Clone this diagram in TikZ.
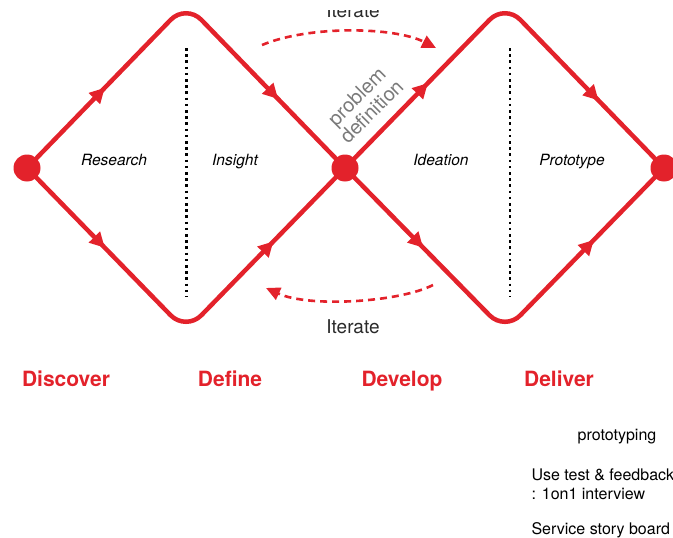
\documentclass[tikz,border=0pt]{standalone}
\usepackage{fontspec}
\setmainfont{TeX Gyre Heros}
\usetikzlibrary{arrows.meta,decorations.markings}
\definecolor{dred}{HTML}{E3222B}
\definecolor{pdgray}{HTML}{7A7A7A}
\definecolor{itgray}{HTML}{2A2A2A}
\tikzset{
  dline/.style={draw=dred, line width=4.5pt, rounded corners=22pt},
  dot/.style={circle, fill=dred, minimum size=27pt, inner sep=0pt},
  vdots/.style={draw=black, line width=2.6pt, dash pattern=on 2.6pt off 3.6pt},
  iter/.style={draw=dred, line width=2.6pt, dash pattern=on 7pt off 5pt, -{Triangle[length=14pt,width=13pt]}},
  midarr/.style 2 args={postaction={decorate, decoration={markings,
      mark=at position #1 with {\arrow[color=dred]{Triangle[length=15pt,width=15pt]}},
      mark=at position #2 with {\arrow[color=dred]{Triangle[length=15pt,width=15pt]}}}}},
  stage/.style={font=\itshape\fontsize{15.5}{18}\selectfont, anchor=base},
  phase/.style={text=dred, font=\bfseries\fontsize{21}{24}\selectfont, anchor=base},
  note/.style={font=\fontsize{16}{19}\selectfont, anchor=base west},
  iterlabel/.style={text=itgray, font=\fontsize{19}{22}\selectfont, anchor=base},
  pd/.style={text=pdgray, font=\fontsize{20}{21}\selectfont, align=center},
}
\begin{document}
\begin{tikzpicture}[x=1pt,y=-1pt]
\useasboundingbox (0,0) rectangle (673,538);
% apex coordinates
\coordinate (T1) at (186,4);
\coordinate (B1) at (186,331);
\coordinate (T2) at (505,4);
\coordinate (B2) at (505,331);
% diamonds
\draw[dline, midarr={0.25}{0.785}] (27,168) coordinate (Lc) -- (T1) -- (345,168) coordinate (Mc);
\draw[dline, midarr={0.25}{0.77}] (Lc) -- (B1) -- (Mc);
\draw[dline, midarr={0.265}{0.79}] (Mc) -- (T2) -- (664,168) coordinate (Rc);
\draw[dline, midarr={0.25}{0.775}] (Mc) -- (B2) -- (Rc);
% dots
\node[dot] (L) at (Lc) {};
\node[dot] (M) at (Mc) {};
\node[dot] (R) at (Rc) {};
% dotted dividers
\coordinate (d1a) at (186.5,48);
\coordinate (d1b) at (186.5,297);
\coordinate (d2a) at (510,48);
\coordinate (d2b) at (510,297);
\draw[vdots] (d1a) -- (d1b);
\draw[vdots] (d2a) -- (d2b);
% stage labels
\node[stage] (research) at (114,165) {Research};
\node[stage] (insight) at (235,165) {Insight};
\node[stage] (ideation) at (441,165) {Ideation};
\node[stage] (prototype) at (572,165) {Prototype};
% problem definition
\node[pd, rotate=45] (pdef) at (364,104) {problem\\definition};
% iterate arcs
\coordinate (i1s) at (262,45);
\coordinate (i1e) at (436,48);
\draw[iter] (i1s) .. controls (310,25) and (395,27) .. (i1e);
\coordinate (i2s) at (433,285);
\coordinate (i2e) at (266,288);
\draw[iter] (i2s) .. controls (400,302) and (310,308) .. (i2e);
\begin{scope}
\clip (0,10) rectangle (673,40);
\node[iterlabel] (it1) at (353,17) {Iterate};
\end{scope}
\node[iterlabel] (it2) at (353,333) {Iterate};
% phases
\node[phase] (discover) at (66,386) {Discover};
\node[phase] (define) at (230,386) {Define};
\node[phase] (develop) at (402,386) {Develop};
\node[phase] (deliver) at (559,386) {Deliver};
% notes
\node[font=\fontsize{16}{19}\selectfont, anchor=base] (n1) at (617,440) {prototyping};
\node[note] (n2) at (528,480) {Use test \& feedback};
\node[note] (n3) at (528,499) {: 1on1 interview};
\node[note] (n4) at (528,534) {Service story board};
\end{tikzpicture}
\end{document}
